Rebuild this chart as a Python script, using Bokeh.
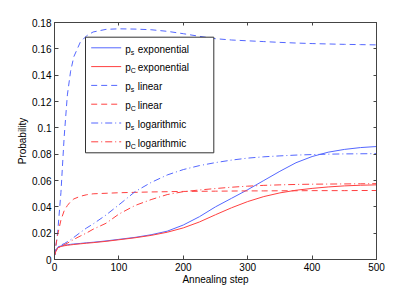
from bokeh.plotting import figure
from bokeh.models import LinearAxis, FixedTicker, Range1d
from bokeh.core.properties import value
from bokeh.embed import file_html
from bokeh.resources import INLINE

# ---------------- data ----------------
STEPS = [0, 2, 5, 10, 15, 20, 25, 30, 40, 50, 60, 80, 100, 125, 150, 175, 200,
         225, 250, 275, 300, 325, 350, 375, 400, 425, 450, 475, 500]

PS_EXPONENTIAL = [0.003, 0.007, 0.0093, 0.0103, 0.0108, 0.0112, 0.0115, 0.0118, 0.0122,
                  0.0127, 0.0131, 0.0141, 0.0153, 0.0168, 0.0188, 0.0215, 0.0262,
                  0.0325, 0.0400, 0.0465, 0.0530, 0.0600, 0.0670, 0.0735, 0.0782,
                  0.0815, 0.0836, 0.0850, 0.0858]
PC_EXPONENTIAL = [0.003, 0.0065, 0.0088, 0.0099, 0.0104, 0.0108, 0.0111, 0.0114, 0.0119,
                  0.0124, 0.0128, 0.0138, 0.0150, 0.0165, 0.0183, 0.0207, 0.0240,
                  0.0285, 0.0340, 0.0393, 0.0440, 0.0478, 0.0506, 0.0526, 0.0540,
                  0.0551, 0.0559, 0.0564, 0.0567]
PS_LINEAR = [0.003, 0.010, 0.021, 0.051, 0.093, 0.125, 0.143, 0.154, 0.165,
             0.170, 0.1728, 0.1748, 0.1752, 0.1750, 0.1745, 0.1733, 0.1715,
             0.1695, 0.1677, 0.1667, 0.1661, 0.1655, 0.1649, 0.1644, 0.1640,
             0.1637, 0.1634, 0.1632, 0.1630]
PC_LINEAR = [0.003, 0.010, 0.019, 0.030, 0.037, 0.041, 0.044, 0.046, 0.048,
             0.0492, 0.0499, 0.0503, 0.0507, 0.0510, 0.0513, 0.0515, 0.0517,
             0.0518, 0.0519, 0.0520, 0.0521, 0.0521, 0.0522, 0.0522, 0.0523,
             0.0523, 0.0523, 0.0524, 0.0524]
PS_LOGARITHMIC = [0.003, 0.007, 0.0095, 0.011, 0.012, 0.0135, 0.015, 0.0168, 0.0205,
                  0.024, 0.027, 0.0338, 0.0415, 0.0515, 0.0585, 0.0642, 0.0683,
                  0.0713, 0.0736, 0.0755, 0.0770, 0.0780, 0.0787, 0.0793, 0.0797,
                  0.0800, 0.0802, 0.0803, 0.0804]
PC_LOGARITHMIC = [0.003, 0.006, 0.0085, 0.010, 0.0112, 0.0124, 0.0138, 0.0153, 0.0178,
                  0.0202, 0.023, 0.0275, 0.0345, 0.0410, 0.0455, 0.0493, 0.0515,
                  0.0528, 0.0539, 0.0549, 0.0557, 0.0563, 0.0567, 0.0570, 0.0572,
                  0.0573, 0.0574, 0.0575, 0.0576]

X_TICKS = [0, 100, 200, 300, 400, 500]
Y_TICKS = [0, 0.02, 0.04, 0.06, 0.08, 0.1, 0.12, 0.14, 0.16, 0.18]
Y_TICK_LABELS = ["0", "0.02", "0.04", "0.06", "0.08", "0.1", "0.12", "0.14", "0.16", "0.18"]

SERIES_NAMES = ["exponential", "exponential", "linear", "linear", "logarithmic", "logarithmic"]
SERIES_SUBS = ["s", "C", "s", "C", "s", "C"]
SERIES_DATA = [PS_EXPONENTIAL, PC_EXPONENTIAL, PS_LINEAR, PC_LINEAR, PS_LOGARITHMIC, PC_LOGARITHMIC]

# ---------------- style ----------------
BLUE = "#5467ff"
RED = "#ff4040"
COLORS = [BLUE, RED, BLUE, RED, BLUE, RED]
DASHES = ["solid", "solid", "6 4", "6 4", "7 3 1 3", "7 3 1 3"]
FONT = "Liberation Sans"
AXIS_COLOR = "#444444"

X_MAX, Y_MAX = 500, 0.18
FRAME_W, FRAME_H = 322, 237

p = figure(width=415, height=292,
           x_range=Range1d(0, X_MAX), y_range=Range1d(0, Y_MAX),
           output_backend="svg", toolbar_location=None,
           min_border_left=54, min_border_right=39,
           min_border_top=22, min_border_bottom=33)
p.xgrid.visible = False
p.ygrid.visible = False
p.outline_line_color = AXIS_COLOR
p.background_fill_color = "white"
p.border_fill_color = "white"


def style_axis(ax, labels=True):
    ax.axis_line_color = AXIS_COLOR
    ax.major_tick_line_color = AXIS_COLOR
    ax.major_tick_in = 4
    ax.major_tick_out = 0
    ax.minor_tick_line_color = None
    ax.major_label_text_font = FONT
    ax.major_label_text_font_size = "10px"
    ax.major_label_text_color = "black" if labels else None
    ax.axis_label_text_font = FONT
    ax.axis_label_text_font_size = "10px"
    ax.axis_label_text_font_style = "normal"
    ax.axis_label_text_color = "black"


xa = p.xaxis[0]
ya = p.yaxis[0]
xa.ticker = FixedTicker(ticks=X_TICKS)
ya.ticker = FixedTicker(ticks=Y_TICKS)
ya.major_label_overrides = {t: l for t, l in zip(Y_TICKS, Y_TICK_LABELS)}
style_axis(xa)
style_axis(ya)
xa.axis_label = "Annealing step"
ya.axis_label = "Probability"
xa.major_label_standoff = 3
xa.axis_label_standoff = 0
ya.major_label_standoff = 3
ya.axis_label_standoff = 1

top = LinearAxis(ticker=FixedTicker(ticks=X_TICKS))
right = LinearAxis(ticker=FixedTicker(ticks=Y_TICKS))
for ax in (top, right):
    style_axis(ax, labels=False)
    ax.major_label_standoff = 0
    ax.major_tick_in = 3
p.add_layout(top, "above")
p.add_layout(right, "right")

# ---------------- curves ----------------
for ys, c, d in zip(SERIES_DATA, COLORS, DASHES):
    p.line(STEPS, ys, line_color=c, line_width=1, line_dash=d)

# ---------------- legend (drawn manually for subscripts) ----------------
def px_x(px):
    return px * X_MAX / FRAME_W


def px_y(py):
    return Y_MAX - py * Y_MAX / FRAME_H


LEG_L, LEG_R, LEG_T, LEG_B = 31, 159.3, 14.7, 130.3
p.quad(left=[px_x(LEG_L)], right=[px_x(LEG_R)], top=[px_y(LEG_T)], bottom=[px_y(LEG_B)],
       fill_color="white", line_color="#333333", line_width=1)

ROW0, ROW_STEP = 25.3, 18.8
for i, (name, sub, c, d) in enumerate(zip(SERIES_NAMES, SERIES_SUBS, COLORS, DASHES)):
    ry = ROW0 + i * ROW_STEP
    p.line([px_x(36.7), px_x(66.7)], [px_y(ry), px_y(ry)], line_color=c, line_width=1, line_dash=d)
    p.text(x=[px_x(70.7)], y=[px_y(ry + 1.2)], text=["p"], text_font=value(FONT),
           text_font_size="10px", text_baseline="alphabetic", text_align="left", text_color="black")
    p.text(x=[px_x(76.3)], y=[px_y(ry + 4.2)], text=[sub], text_font=value(FONT),
           text_font_size="7px", text_baseline="alphabetic", text_align="left", text_color="black")
    p.text(x=[px_x(83.3)], y=[px_y(ry + 1.2)], text=[name], text_font=value(FONT),
           text_font_size="10px", text_baseline="alphabetic", text_align="left", text_color="black")

open("out.html", "w").write(file_html(p, INLINE))
